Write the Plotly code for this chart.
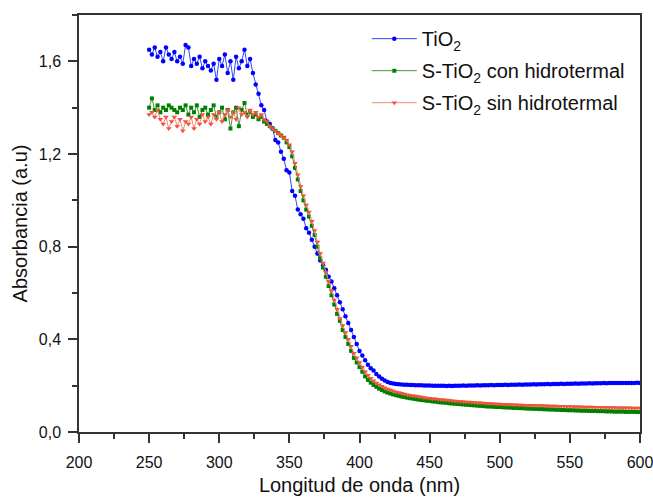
import plotly.graph_objects as go

# Wavelength grid (nm), 2 nm step
wavelength = list(range(250, 601, 2))

# Absorbance of TiO2
tio2 = [
    1.65, 1.63, 1.66, 1.62, 1.64, 1.60, 1.66, 1.63, 1.61, 1.64,
    1.60, 1.62, 1.59, 1.67, 1.66, 1.58, 1.61, 1.59, 1.62, 1.57,
    1.60, 1.58, 1.56, 1.59, 1.52, 1.61, 1.58, 1.63, 1.55, 1.60,
    1.52, 1.62, 1.57, 1.60, 1.65, 1.58, 1.61, 1.55, 1.50, 1.46,
    1.41, 1.39, 1.34, 1.33, 1.31, 1.26, 1.25, 1.21, 1.18, 1.13,
    1.12, 1.04, 1.02, 0.96, 0.94, 0.92, 0.88, 0.86, 0.83, 0.80,
    0.77, 0.74, 0.72, 0.70, 0.67, 0.65, 0.62, 0.59, 0.56, 0.53,
    0.50, 0.47, 0.44, 0.41, 0.38, 0.35, 0.33, 0.31, 0.29, 0.275,
    0.265, 0.25, 0.24, 0.23, 0.222, 0.216, 0.212, 0.209, 0.207, 0.206,
    0.205, 0.204, 0.204, 0.203, 0.203, 0.202, 0.202, 0.202, 0.201, 0.201,
    0.201, 0.200, 0.200, 0.200, 0.200, 0.200, 0.199, 0.200, 0.199, 0.200,
    0.200, 0.200, 0.201, 0.200, 0.201, 0.201, 0.201, 0.202, 0.201, 0.202,
    0.202, 0.202, 0.203, 0.202, 0.203, 0.203, 0.203, 0.204, 0.203, 0.204,
    0.204, 0.204, 0.205, 0.204, 0.205, 0.205, 0.205, 0.206, 0.205, 0.206,
    0.206, 0.206, 0.207, 0.206, 0.207, 0.207, 0.207, 0.208, 0.207, 0.208,
    0.208, 0.208, 0.209, 0.208, 0.209, 0.209, 0.209, 0.210, 0.209, 0.210,
    0.210, 0.210, 0.211, 0.210, 0.211, 0.211, 0.211, 0.211, 0.212, 0.211,
    0.212, 0.212, 0.212, 0.212, 0.213, 0.212,
]

# Absorbance of S-TiO2 prepared with hydrothermal treatment
s_tio2_con = [
    1.40, 1.44, 1.39, 1.41, 1.38, 1.40, 1.39, 1.41, 1.40, 1.39,
    1.38, 1.40, 1.39, 1.41, 1.37, 1.40, 1.38, 1.41, 1.36, 1.39,
    1.40, 1.37, 1.39, 1.41, 1.36, 1.38, 1.40, 1.35, 1.39, 1.31,
    1.38, 1.40, 1.32, 1.39, 1.42, 1.37, 1.38, 1.36, 1.37, 1.35,
    1.36, 1.34, 1.33, 1.32, 1.31, 1.30, 1.29, 1.28, 1.27, 1.25,
    1.23, 1.19, 1.14, 1.09, 1.04, 1.00, 0.96, 0.93, 0.89, 0.85,
    0.80, 0.75, 0.71, 0.67, 0.63, 0.59, 0.55, 0.51, 0.48, 0.44,
    0.41, 0.38, 0.35, 0.32, 0.30, 0.28, 0.26, 0.24, 0.225, 0.213,
    0.203, 0.195, 0.187, 0.181, 0.175, 0.170, 0.166, 0.162, 0.159, 0.156,
    0.153, 0.151, 0.148, 0.146, 0.144, 0.142, 0.140, 0.138, 0.137, 0.135,
    0.134, 0.132, 0.131, 0.129, 0.128, 0.127, 0.126, 0.124, 0.123, 0.122,
    0.121, 0.120, 0.119, 0.118, 0.117, 0.116, 0.115, 0.114, 0.113, 0.112,
    0.111, 0.110, 0.110, 0.109, 0.108, 0.108, 0.107, 0.106, 0.106, 0.105,
    0.104, 0.104, 0.103, 0.103, 0.102, 0.101, 0.101, 0.100, 0.100, 0.099,
    0.099, 0.098, 0.098, 0.097, 0.097, 0.096, 0.096, 0.095, 0.095, 0.094,
    0.094, 0.094, 0.093, 0.093, 0.092, 0.092, 0.092, 0.091, 0.091, 0.091,
    0.090, 0.090, 0.090, 0.089, 0.089, 0.089, 0.088, 0.088, 0.088, 0.088,
    0.087, 0.087, 0.087, 0.087, 0.086, 0.086,
]

# Absorbance of S-TiO2 prepared without hydrothermal treatment
s_tio2_sin = [
    1.37, 1.38, 1.36, 1.39, 1.35, 1.33, 1.36, 1.31, 1.34, 1.36,
    1.32, 1.35, 1.30, 1.34, 1.33, 1.36, 1.31, 1.35, 1.33, 1.37,
    1.34, 1.36, 1.33, 1.37, 1.35, 1.38, 1.34, 1.37, 1.39, 1.36,
    1.38, 1.35, 1.40, 1.37, 1.38, 1.36, 1.39, 1.37, 1.38, 1.36,
    1.37, 1.35, 1.34, 1.32, 1.31, 1.30, 1.29, 1.28, 1.27, 1.26,
    1.24, 1.21, 1.16, 1.11, 1.06, 1.02, 0.98, 0.95, 0.91, 0.87,
    0.82, 0.77, 0.73, 0.69, 0.65, 0.61, 0.57, 0.53, 0.49, 0.46,
    0.43, 0.40, 0.37, 0.34, 0.32, 0.30, 0.28, 0.26, 0.245, 0.232,
    0.221, 0.212, 0.204, 0.197, 0.191, 0.186, 0.181, 0.177, 0.173, 0.170,
    0.167, 0.164, 0.161, 0.159, 0.157, 0.155, 0.153, 0.151, 0.149, 0.147,
    0.146, 0.144, 0.143, 0.141, 0.140, 0.139, 0.138, 0.137, 0.135, 0.134,
    0.133, 0.132, 0.131, 0.130, 0.129, 0.128, 0.127, 0.126, 0.126, 0.125,
    0.124, 0.123, 0.123, 0.122, 0.121, 0.121, 0.120, 0.120, 0.119, 0.119,
    0.118, 0.118, 0.117, 0.117, 0.116, 0.116, 0.115, 0.115, 0.114, 0.114,
    0.114, 0.113, 0.113, 0.112, 0.112, 0.112, 0.111, 0.111, 0.111, 0.110,
    0.110, 0.110, 0.109, 0.109, 0.109, 0.108, 0.108, 0.108, 0.108, 0.107,
    0.107, 0.107, 0.107, 0.106, 0.106, 0.106, 0.106, 0.105, 0.105, 0.105,
    0.105, 0.105, 0.104, 0.104, 0.104, 0.104,
]

series_names = [
    "TiO<sub>2</sub>",
    "S-TiO<sub>2</sub> con hidrotermal",
    "S-TiO<sub>2</sub> sin hidrotermal",
]

FONT = "Arial, Liberation Sans, sans-serif"

fig = go.Figure()
fig.add_trace(go.Scatter(
    x=wavelength, y=tio2, name=series_names[0], mode="lines+markers",
    legendgroup="a",
    line=dict(color="#3344ff", width=1),
    marker=dict(symbol="circle", size=4.5, color="#0000ff"),
))
fig.add_trace(go.Scatter(
    x=wavelength, y=s_tio2_con, name=series_names[1], mode="lines+markers",
    legendgroup="b",
    line=dict(color="#3c9a3c", width=1),
    marker=dict(symbol="square", size=4, color="#008000"),
))
fig.add_trace(go.Scatter(
    x=wavelength, y=s_tio2_sin, name=series_names[2], mode="lines+markers",
    legendgroup="c",
    line=dict(color="#f28a78", width=1),
    marker=dict(symbol="triangle-down", size=5, color="#f0553c"),
))

axis_common = dict(
    showline=True, linecolor="#333333", linewidth=1.5, mirror=True,
    showgrid=False, zeroline=False, automargin=False,
    ticks="outside", ticklen=9, tickwidth=1.5, tickcolor="#333333",
    tickfont=dict(family=FONT, size=16, color="#111111"),
    ticklabeloverflow="allow",
)

fig.update_xaxes(
    **axis_common,
    range=[200, 600], dtick=50, tick0=200,
    minor=dict(dtick=25, ticks="outside", ticklen=5, tickwidth=1.5, tickcolor="#333333"),
    ticklabelstandoff=6,
    title=dict(text="Longitud de onda (nm)", font=dict(family=FONT, size=20, color="#111111"), standoff=8),
)
fig.update_yaxes(
    **axis_common,
    range=[0, 1.8], dtick=0.4, tick0=0, tickformat=".1f",
    minor=dict(dtick=0.2, ticks="outside", ticklen=5, tickwidth=1.5, tickcolor="#333333"),
    ticklabelstandoff=4,
    title=dict(text="Absorbancia (a.u)", font=dict(family=FONT, size=20, color="#111111"), standoff=6),
)

fig.update_layout(
    width=653, height=498,
    margin=dict(l=79, r=13, t=15, b=66, autoexpand=False),
    paper_bgcolor="white", plot_bgcolor="white",
    separators=", ",
    showlegend=True,
    legend=dict(
        x=0.513, y=0.99, xanchor="left", yanchor="top",
        bgcolor="rgba(0,0,0,0)", borderwidth=0,
        font=dict(family=FONT, size=20, color="#111111"),
        itemwidth=45, tracegroupgap=3,
    ),
)

fig.write_html("out.html")
